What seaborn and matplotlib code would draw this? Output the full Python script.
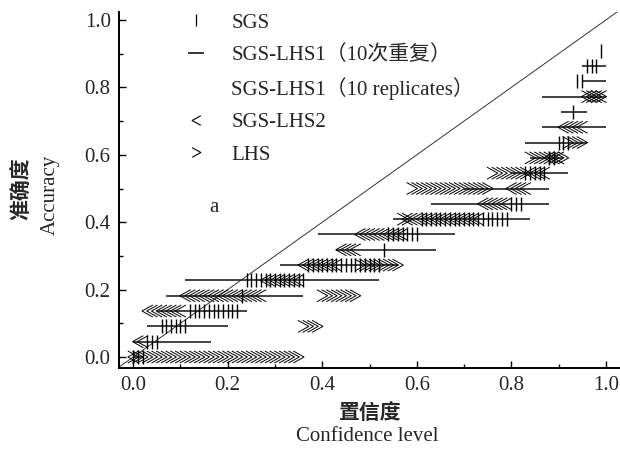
import numpy as np
import matplotlib
matplotlib.use("Agg")
import matplotlib.pyplot as plt
from matplotlib.path import Path
from matplotlib.lines import Line2D
from matplotlib.font_manager import FontProperties
from matplotlib.ticker import MultipleLocator
import seaborn as sns

# ── data ────────────────────────────────────────────────────────
N_VALID = 22                                # validation points -> accuracy = k / 22
CONF = np.round(np.arange(0, 100) / 100, 2)  # confidence levels 0.00 ... 0.99

# number of validation points inside the interval, one value per confidence level
SGS_K = [0, 0, 0, 1, 1, 1, 2, 2, 2, 2,
         2, 2, 3, 3, 3, 3, 3, 3, 3, 3,
         3, 3, 3, 4, 5, 5, 5, 5, 5, 5,
         5, 5, 5, 5, 5, 5, 5, 6, 6, 6,
         6, 6, 6, 6, 6, 6, 6, 6, 6, 6,
         6, 6, 6, 7, 8, 8, 8, 8, 8, 8,
         8, 9, 9, 9, 9, 9, 9, 9, 9, 9,
         9, 9, 9, 9, 9, 9, 9, 9, 9, 9,
         10, 10, 10, 12, 12, 12, 12, 12, 13, 13,
         14, 14, 14, 16, 18, 18, 19, 19, 19, 20]

LHS2_K = [0, 1, 1, 3, 3, 3, 3, 3, 3, 3,
          3, 4, 4, 4, 4, 4, 4, 4, 4, 4,
          4, 4, 4, 4, 4, 4, 4, 4, 5, 5,
          5, 5, 5, 5, 5, 5, 6, 6, 6, 6,
          6, 6, 6, 6, 7, 7, 7, 7, 8, 8,
          8, 8, 8, 8, 8, 8, 8, 8, 9, 9,
          9, 9, 9, 9, 9, 9, 9, 9, 9, 9,
          9, 9, 9, 9, 10, 10, 10, 10, 10, 10,
          11, 11, 11, 11, 12, 12, 12, 12, 13, 13,
          13, 15, 15, 15, 15, 15, 17, 17, 17, 17]

LHS_K = [0, 0, 0, 0, 0, 0, 0, 0, 0, 0,
         0, 0, 0, 0, 0, 0, 0, 0, 0, 0,
         0, 0, 0, 0, 0, 0, 0, 0, 0, 0,
         0, 0, 0, 0, 0, 0, 2, 2, 2, 2,
         4, 4, 4, 4, 4, 4, 4, 4, 6, 6,
         6, 6, 6, 6, 6, 6, 6, 9, 9, 11,
         11, 11, 11, 11, 11, 11, 11, 11, 11, 11,
         11, 11, 11, 11, 11, 11, 12, 12, 12, 12,
         12, 12, 12, 12, 13, 13, 13, 13, 13, 13,
         13, 13, 14, 14, 14, 14, 17, 17, 17, 17]

# SGS-LHS1, 10 replicates: confidence range covered at each accuracy count
LHS1_K   = [0, 1, 2, 3, 4, 5, 6, 7, 8, 9,
            10, 11, 12, 13, 14, 15, 16, 17, 18, 19]
LHS1_MIN = [0.00, 0.00, 0.03, 0.05, 0.07, 0.11, 0.31, 0.43, 0.39, 0.55,
            0.63, 0.70, 0.80, 0.84, 0.83, 0.865, 0.905, 0.865, 0.95, 0.95]
LHS1_MAX = [0.02, 0.165, 0.20, 0.24, 0.36, 0.52, 0.56, 0.64, 0.68, 0.84,
            0.88, 0.88, 0.92, 0.91, 0.96, 1.00, 0.96, 1.00, 1.00, 1.00]

SERIF = "Liberation Serif"
CJK   = "Noto Sans CJK SC"

# open chevrons like the original "<" / ">" glyphs
CHEV_L = Path([(0.9, 1.0), (-0.9, 0.0), (0.9, -1.0)],
              [Path.MOVETO, Path.LINETO, Path.LINETO])
CHEV_R = Path([(-0.9, 1.0), (0.9, 0.0), (-0.9, -1.0)],
              [Path.MOVETO, Path.LINETO, Path.LINETO])

sns.set_style("ticks")
plt.rcParams["font.family"] = [SERIF, CJK]
plt.rcParams["font.size"] = 15

fig = plt.figure(figsize=(6.2, 4.59), dpi=100)
ax = fig.add_axes([0.192, 0.198, 0.808, 0.776])

# 1:1 reference line
ax.plot([-0.033, 1.1], [-0.033, 1.1], color="#333333", linewidth=0.7, zorder=1)

# SGS-LHS1 replicate ranges
acc1 = np.array(LHS1_K) / N_VALID
ax.hlines(acc1, LHS1_MIN, LHS1_MAX, color="#222222", linewidth=1.2, zorder=2)

# SGS
sns.scatterplot(x=CONF, y=np.array(SGS_K) / N_VALID, marker="|", s=95,
                color="k", linewidth=1.0, ax=ax, legend=False, zorder=3)
# SGS-LHS2
sns.scatterplot(x=CONF, y=np.array(LHS2_K) / N_VALID, marker=CHEV_L, s=75,
                color="k", facecolor="none", edgecolor="k", linewidth=0.7,
                ax=ax, legend=False, zorder=3)
# LHS
sns.scatterplot(x=CONF, y=np.array(LHS_K) / N_VALID, marker=CHEV_R, s=75,
                color="k", facecolor="none", edgecolor="k", linewidth=0.7,
                ax=ax, legend=False, zorder=3)

ax.set_xlim(-0.03, 1.03)
ax.set_ylim(-0.033, 1.024)
ax.xaxis.set_major_locator(MultipleLocator(0.2))
ax.xaxis.set_minor_locator(MultipleLocator(0.1))
ax.yaxis.set_major_locator(MultipleLocator(0.2))
ax.yaxis.set_minor_locator(MultipleLocator(0.1))
ax.set_xticks(np.arange(0, 1.01, 0.2))
ax.set_yticks(np.arange(0, 1.01, 0.2))
ax.tick_params(which="both", direction="in", width=1.0, color="k")
ax.tick_params(which="major", length=5, labelsize=15, pad=6)
ax.tick_params(which="minor", length=3)
ax.spines[["top", "right"]].set_visible(False)
ax.spines[["left", "bottom"]].set_linewidth(1.4)
ax.spines[["left", "bottom"]].set_color("k")
ax.set_xlabel("")
ax.set_ylabel("")

ax.text(0.17, 0.445, "a", fontsize=15, ha="center", va="center")

handles = [
    Line2D([], [], ls="none", marker="|", ms=8, mew=0.9, color="k"),
    Line2D([], [], ls="none", marker="_", ms=11, mew=1.1, color="k"),
    Line2D([], [], ls="none"),
    Line2D([], [], ls="none", marker=CHEV_L, ms=7, mew=0.8,
           mfc="none", mec="k"),
    Line2D([], [], ls="none", marker=CHEV_R, ms=7, mew=0.8,
           mfc="none", mec="k"),
]
labels = ["SGS", "SGS-LHS1（10次重复）", "SGS-LHS1（10 replicates）",
          "SGS-LHS2", "LHS"]
ax.legend(handles, labels, loc="upper left", bbox_to_anchor=(0.116, 1.02),
          frameon=False, prop=FontProperties(family=[SERIF, CJK], size=15),
          handlelength=1.0, handletextpad=1.2, labelspacing=0.6,
          borderaxespad=0)

# axis titles: Chinese over English
fig.text(0.597, 0.100, "置信度", fontsize=15, fontweight="bold",
         family=[CJK], ha="center", va="center")
fig.text(0.592, 0.048, "Confidence level", fontsize=15, family=[SERIF],
         ha="center", va="center")
fig.text(0.035, 0.590, "准确度", fontsize=15, fontweight="bold",
         family=[CJK], ha="center", va="center", rotation=90)
fig.text(0.081, 0.575, "Accuracy", fontsize=15, family=[SERIF],
         ha="center", va="center", rotation=90)

fig.savefig("out.png", dpi=100)
plt.close(fig)
